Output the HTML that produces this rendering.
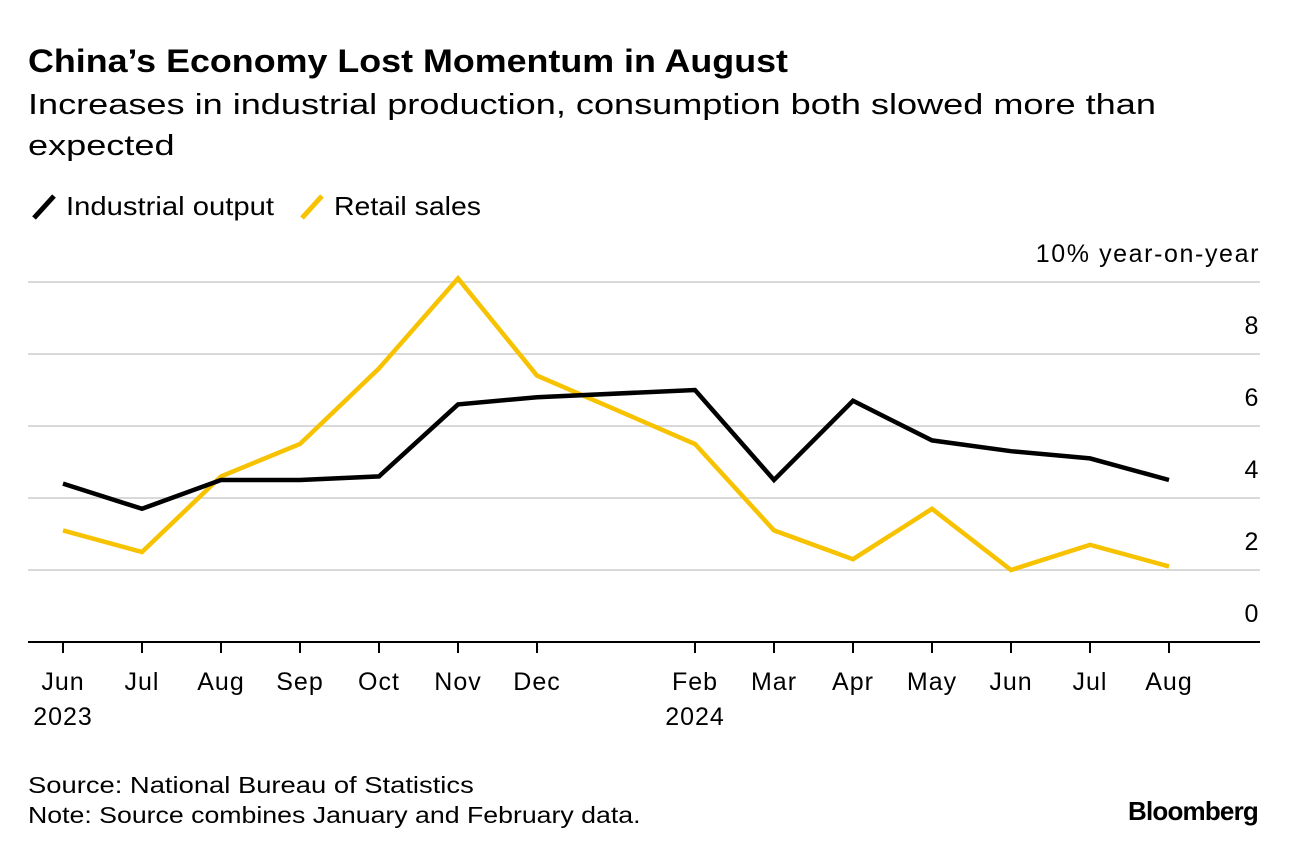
<!DOCTYPE html>
<html><head><meta charset="utf-8"><style>
body{margin:0;background:#fff;width:1296px;height:856px;overflow:hidden;font-family:"Liberation Sans",sans-serif;color:#000}
.sx{position:absolute;left:28px;white-space:nowrap;transform-origin:0 0}
</style></head><body>
<div class="sx" style="top:43px;font-size:32px;font-weight:bold;transform:scaleX(1.12)">China’s Economy Lost Momentum in August</div>
<div class="sx" style="top:89px;font-size:29px;transform:scaleX(1.245)">Increases in industrial production, consumption both slowed more than</div>
<div class="sx" style="top:130px;font-size:29px;transform:scaleX(1.245)">expected</div>
<svg width="1296" height="856" style="position:absolute;left:0;top:0">
<g font-size="26">
<line x1="34" y1="218" x2="54" y2="196" stroke="#000" stroke-width="5"/>
<text x="66" y="215" textLength="208" lengthAdjust="spacingAndGlyphs">Industrial output</text>
<line x1="302" y1="218" x2="322" y2="196" stroke="#f7c200" stroke-width="5"/>
<text x="334" y="215" textLength="147" lengthAdjust="spacingAndGlyphs">Retail sales</text>
</g>
<g id="grid"></g><g id="xaxis"></g><g id="lines"></g>
</svg>
<div class="sx" style="top:772px;font-size:23px;transform:scaleX(1.19)">Source: National Bureau of Statistics</div>
<div class="sx" style="top:802px;font-size:23px;transform:scaleX(1.16)">Note: Source combines January and February data.</div>
<div style="position:absolute;right:38px;top:796px;font-size:26px;font-weight:bold;letter-spacing:-0.8px">Bloomberg</div>
<script>
const months=["Jun","Jul","Aug","Sep","Oct","Nov","Dec","Feb","Mar","Apr","May","Jun","Jul","Aug"];
const monthIndex=[0,1,2,3,4,5,6,8,9,10,11,12,13,14];
const years=["2023","","","","","","","2024","","","","","",""];
const industrial=[4.4,3.7,4.5,4.5,4.6,6.6,6.8,7.0,4.5,6.7,5.6,5.3,5.1,4.5];
const retail=[3.1,2.5,4.6,5.5,7.6,10.1,7.4,5.5,3.1,2.3,3.7,2.0,2.7,2.1];
const yTicks=[0,2,4,6,8,10];
const yLabels=["0","2","4","6","8","10% year-on-year"];
const NS="http://www.w3.org/2000/svg";
const x=i=>63+i*79, y=v=>642-v*36;
function mk(p,t,a){const e=document.createElementNS(NS,t);for(const k in a)e.setAttribute(k,a[k]);p.appendChild(e);return e;}
const g=document.getElementById('grid'),xa=document.getElementById('xaxis'),L=document.getElementById('lines');
yTicks.forEach((v,i)=>{
 if(v>0){const l=mk(g,'line',{x1:28,x2:1260,y1:y(v),y2:y(v),stroke:'#d9d9d9','stroke-width':2});
 
 }
 const t=mk(g,'text',{x:1260,y:y(v)-20,'text-anchor':'end','font-size':25,'letter-spacing':'1.6'});t.textContent=yLabels[i];
 
 
});
const ax=mk(xa,'line',{x1:28,x2:1260,y1:642,y2:642,stroke:'#000','stroke-width':2});


months.forEach((m,i)=>{
 const xx=x(monthIndex[i]);
 const tk=mk(xa,'line',{x1:xx,x2:xx,y1:642,y2:653,stroke:'#000','stroke-width':2});
 
 
 const t=mk(xa,'text',{x:xx,y:690,'text-anchor':'middle','font-size':25,'letter-spacing':'1'});t.textContent=m;
 
 
 if(years[i]){const yt=mk(xa,'text',{x:xx,y:725,'text-anchor':'middle','font-size':25,'letter-spacing':'1'});yt.textContent=years[i];
 
 }
});
function line(d,c,n){const p=mk(L,'polyline',{points:d.map((v,i)=>x(monthIndex[i])+','+y(v)).join(' '),fill:'none',stroke:c,'stroke-width':4.5,'stroke-linejoin':'miter'});
 
 }
line(retail,'#f7c200','retail-sales-line');
line(industrial,'#000','industrial-output-line');
</script>
</body></html>
